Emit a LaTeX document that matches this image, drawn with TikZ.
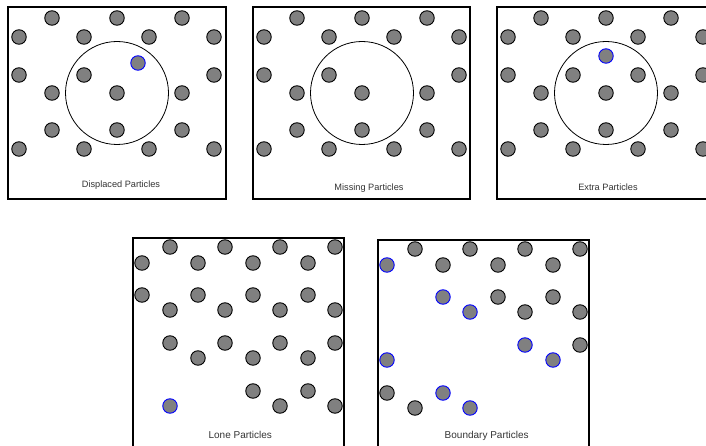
\documentclass[tikz,border=0pt]{standalone}
\usepackage{fontspec}
\setsansfont{Liberation Sans}
% particles of the hexagonal patch used in the three upper panels
\newcommand{\hexpatch}[1]{%
  \foreach \x/\y [count=\i] in {44/11,109/11,174/11,
      11/30,76/30,141/30,206/30, 11/68,76/68,206/68,
      44/86,109/86,174/86, 44/123,109/123,174/123,
      11/142,76/142,141/142,206/142}
    \node[particle] (#1-\i) at (\x,\y) {};
}
\begin{document}
\begin{tikzpicture}[x=1pt,y=-1pt,
    particle/.style={circle,draw=black,fill=gray,line width=0.9pt,minimum size=14.5pt,inner sep=0pt},
    marked/.style={particle,draw=blue},
    frame/.style={draw=black,line width=1.1pt},
    cutoff/.style={circle,draw=black,line width=0.8pt,minimum size=103pt,inner sep=0pt},
    caption/.style={font=\sffamily\fontsize{9.2}{10}\selectfont,text=black!80},
    bigcaption/.style={caption,font=\sffamily\fontsize{10}{11}\selectfont}]
    \path[use as bounding box,clip] (0,0) rectangle (706,446);

    % displaced
    \begin{scope}[shift={(8,7)}]
    \draw[frame] (0,0) rectangle (218,192);
    \node[cutoff] (dis-range) at (109,86) {};
    \hexpatch{dis}
    \node[marked] (dis-moved) at (130,56) {};
    \node[caption] (dis-label) at (113,178.5) {Displaced Particles};
    \end{scope}

    % missing
    \begin{scope}[shift={(253,7)}]
    \draw[frame] (0,0) rectangle (217,192);
    \node[cutoff] (mis-range) at (109,86) {};
    \hexpatch{mis}
    \node[caption] (mis-label) at (116,181.5) {Missing Particles};
    \end{scope}

    % extra
    \begin{scope}[shift={(497,7)}]
    \draw[frame] (0,0) rectangle (218,192);
    \node[cutoff] (ext-range) at (109,86) {};
    \hexpatch{ext}
    \node[particle] (ext-site) at (141,68) {};
    \node[marked] (ext-new) at (109,49) {};
    \node[caption] (ext-label) at (111,180.7) {Extra Particles};
    \end{scope}

    % lone
    \begin{scope}[shift={(133,238)}]
    \draw[frame] (0,0) rectangle (211,220);
    \foreach \x/\y/\s [count=\i] in {37/9/particle,92/9/particle,147/9/particle,202/9/particle,
        9/25/particle,65/25/particle,120/25/particle,175/25/particle,
        9/57/particle,65/57/particle,120/57/particle,175/57/particle,
        37/72/particle,92/72/particle,147/72/particle,202/72/particle,
        37/105/particle,92/105/particle,147/105/particle,202/105/particle,
        65/120/particle,120/120/particle,175/120/particle,
        120/153/particle,175/153/particle,
        37/168/marked,147/168/particle,202/168/particle}
      \node[\s] (lone-\i) at (\x,\y) {};
    \node[bigcaption] (lone-label) at (107.3,197.4) {Lone Particles};
    \end{scope}

    % boundary
    \begin{scope}[shift={(378,240)}]
    \draw[frame] (0,0) rectangle (211,220);
    \foreach \x/\y/\s [count=\i] in {37/9/particle,92/9/particle,147/9/particle,202/9/particle,
        9/25/marked,65/25/particle,120/25/particle,175/25/particle,
        65/57/marked,120/57/particle,175/57/particle,
        92/72/marked,147/72/particle,202/72/particle,
        147/105/marked,202/105/particle,
        9/120/marked,175/120/marked,
        9/153/particle,65/153/marked,
        37/168/particle,92/168/marked}
      \node[\s] (bnd-\i) at (\x,\y) {};
    \node[bigcaption] (bnd-label) at (108.7,196.4) {Boundary Particles};
    \end{scope}
\end{tikzpicture}
\end{document}
